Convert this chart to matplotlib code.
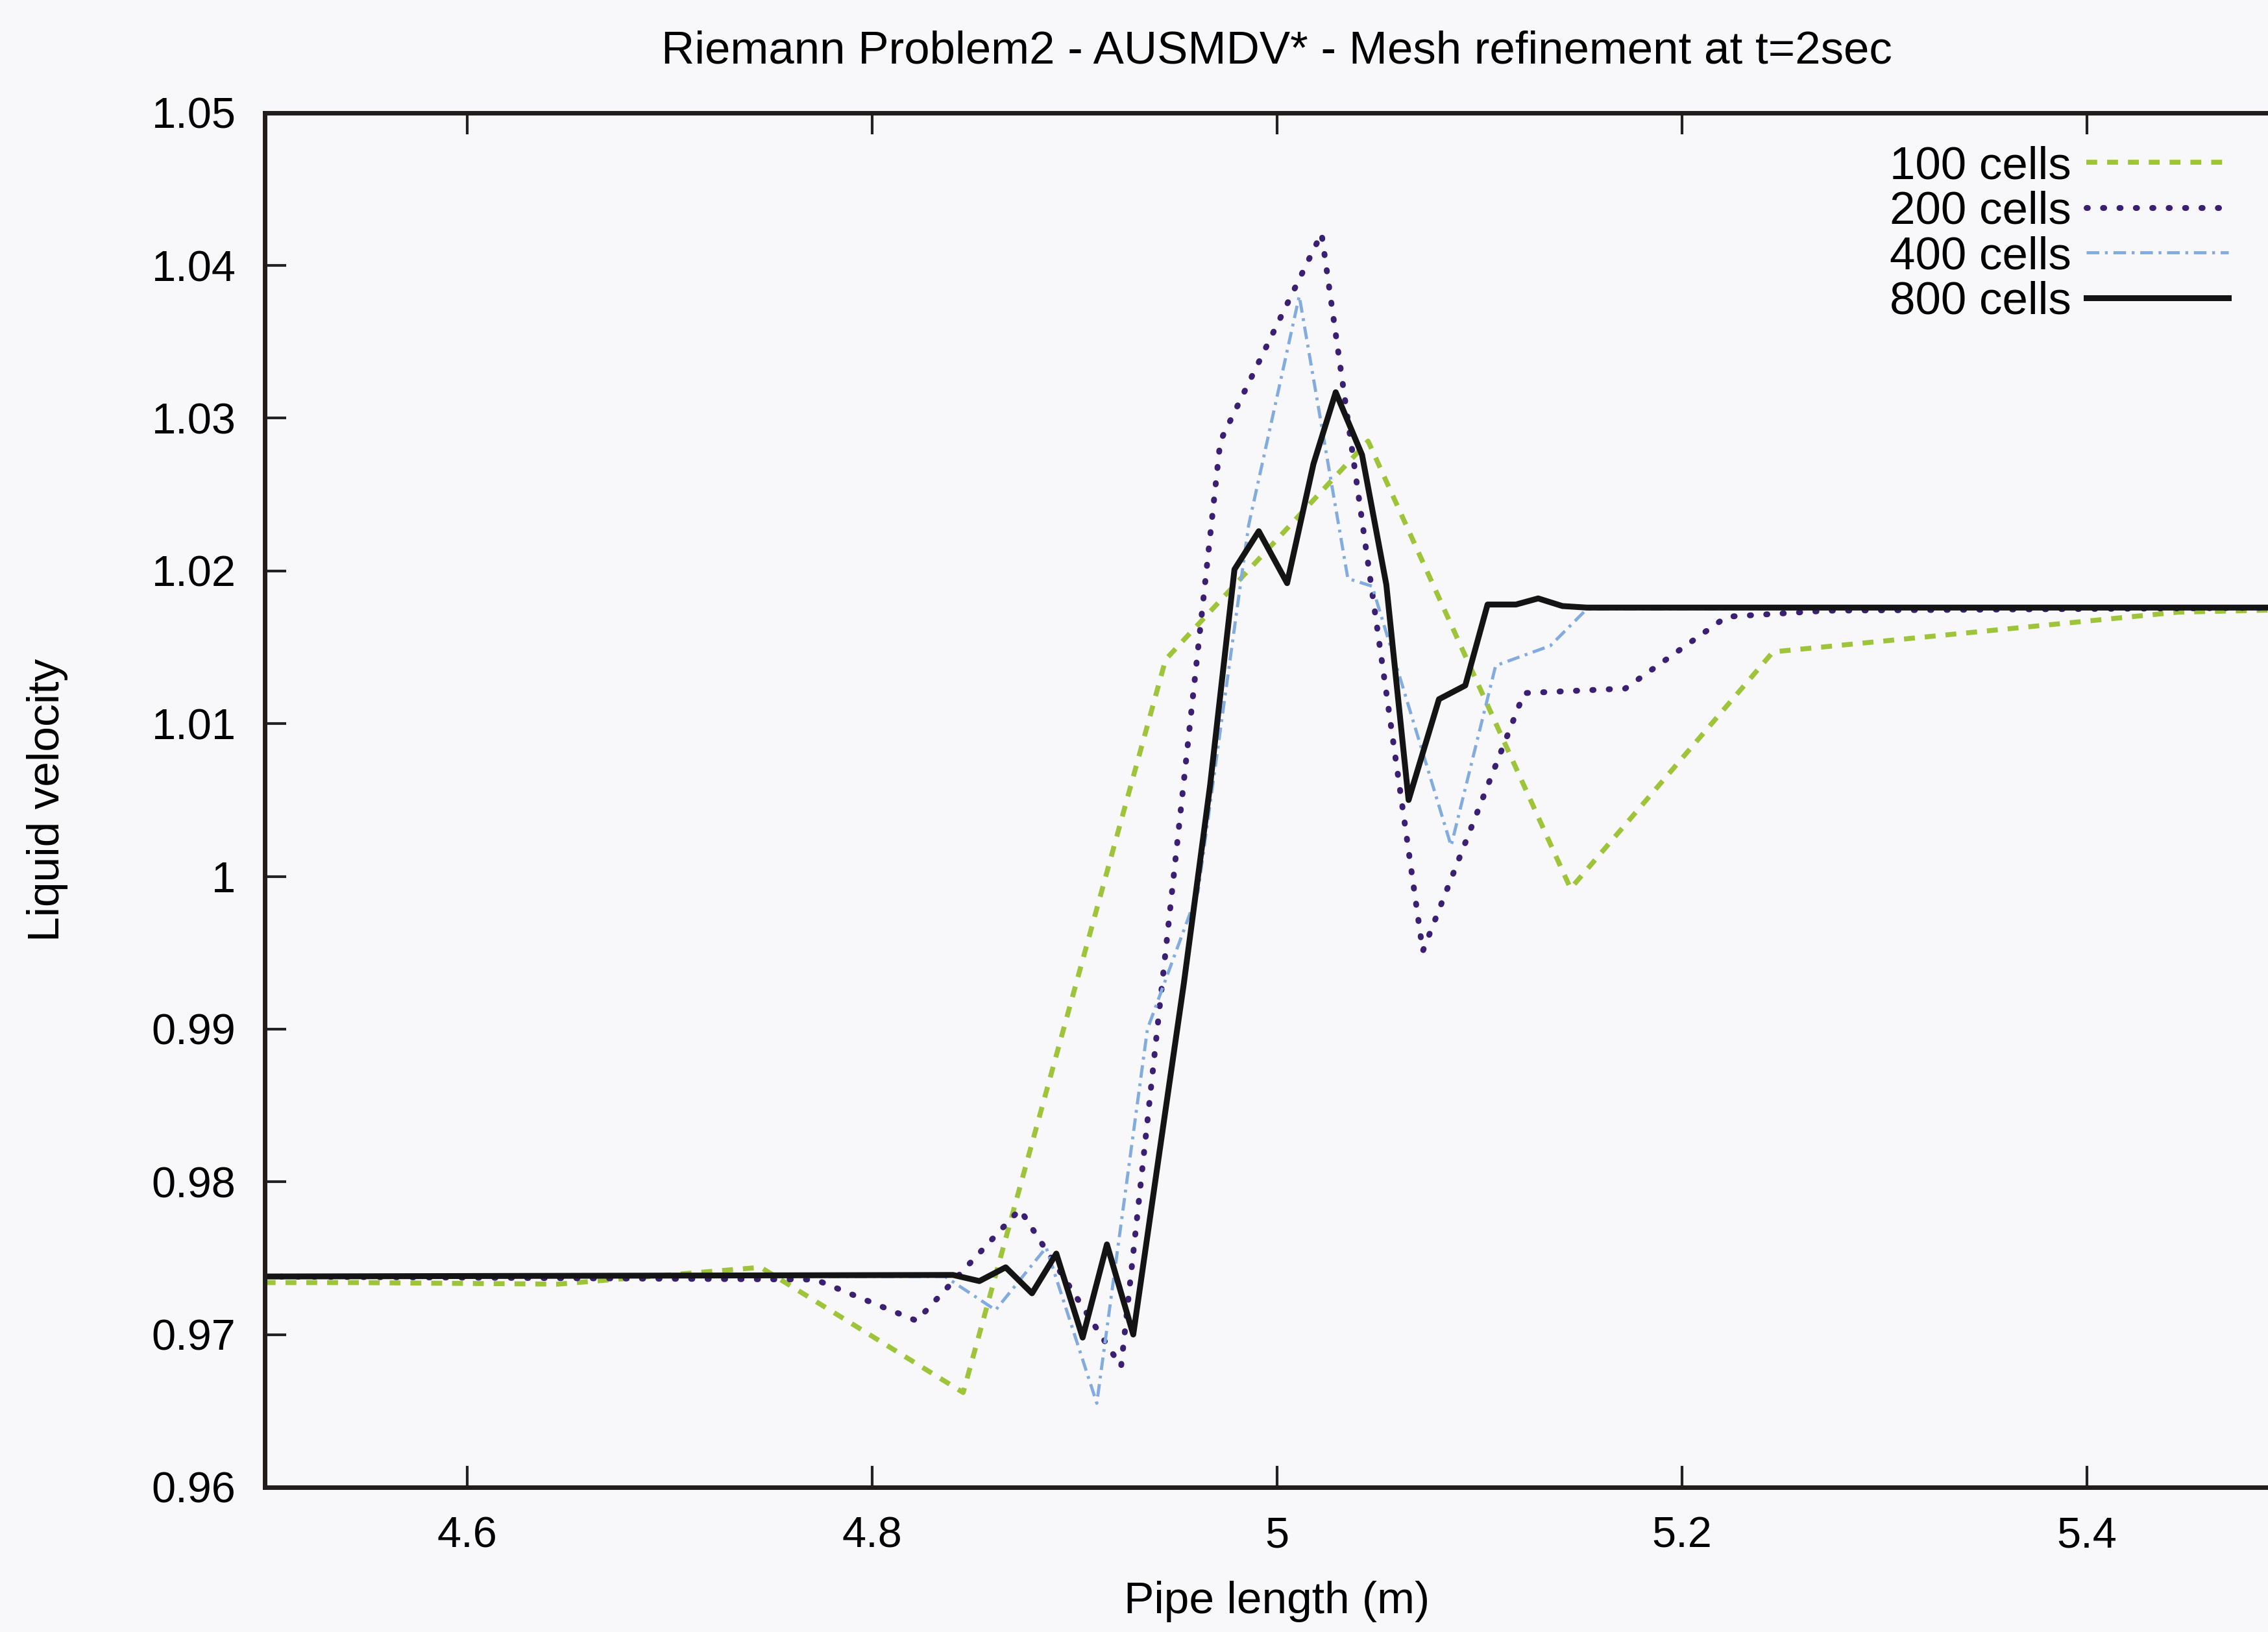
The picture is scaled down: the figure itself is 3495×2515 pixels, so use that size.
import matplotlib
matplotlib.use('Agg')
import matplotlib.pyplot as plt
from matplotlib.ticker import FuncFormatter

# Liquid velocity along the pipe for four mesh sizes (AUSMDV*, t = 2 s)
x_100 = [4.50, 4.545, 4.645, 4.745, 4.845, 4.945, 5.045, 5.145, 5.245, 5.345, 5.445, 5.545]
u_100 = [0.9734, 0.9734, 0.9733, 0.9744, 0.9662, 1.0142, 1.0285, 0.9992, 1.0147, 1.0160, 1.0173, 1.0176]

x_200 = [4.50, 4.772, 4.822, 4.873, 4.923, 4.972, 5.022, 5.072, 5.122, 5.172, 5.222, 5.272, 5.50]
u_200 = [0.9738, 0.9736, 0.9709, 0.9782, 0.9679, 1.0285, 1.0421, 0.9951, 1.0120, 1.0123, 1.0170, 1.0174, 1.0176]

x_400 = [4.50, 4.836, 4.861, 4.886, 4.911, 4.936, 4.961, 4.986, 5.011, 5.035, 5.047, 5.086, 5.108, 5.135, 5.153, 5.50]
u_400 = [0.9738, 0.9738, 0.9716, 0.9757, 0.9655, 0.9900, 0.9990, 1.0230, 1.0380, 1.0195, 1.0190, 1.0020, 1.0138, 1.0151, 1.0175, 1.0176]

x_800 = [4.50, 4.840, 4.853, 4.866, 4.879, 4.891, 4.904, 4.916, 4.929, 4.942, 4.954, 4.967,
         4.979, 4.991, 5.005, 5.018, 5.029, 5.042, 5.054, 5.065, 5.080, 5.093, 5.104, 5.118,
         5.129, 5.141, 5.153, 5.50]
u_800 = [0.9738, 0.9739, 0.9735, 0.9744, 0.9727, 0.9753, 0.9698, 0.9759, 0.9700, 0.9820, 0.9930, 1.0060,
         1.0201, 1.0226, 1.0192, 1.0270, 1.0317, 1.0276, 1.0191, 1.0050, 1.0116, 1.0125, 1.0178, 1.0178,
         1.0182, 1.0177, 1.0176, 1.0176]

labels = ['100 cells', '200 cells', '400 cells', '800 cells']
x_ticks = [4.6, 4.8, 5.0, 5.2, 5.4]
y_ticks = [0.96, 0.97, 0.98, 0.99, 1.00, 1.01, 1.02, 1.03, 1.04, 1.05]

plt.rcParams['font.family'] = ['Liberation Sans', 'DejaVu Sans']

fig = plt.figure(figsize=(34.95, 25.15), dpi=100, facecolor='#f8f8fa')
# axes runs a little past the right edge of the page
ax = fig.add_axes([0.1167, 0.0887, 0.8927, 0.8422])
ax.set_facecolor('#f8f8fa')

ax.plot(x_100, u_100, color='#9ec43a', lw=5.5, linestyle=(0, (2.2, 2.0)), label=labels[0])
ax.plot(x_200, u_200, color='#3a1f73', lw=6.5, linestyle=(0, (0.2, 2.6)),
        dash_capstyle='round', label=labels[1])
ax.plot(x_400, u_400, color='#82ace0', lw=3.5, linestyle=(0, (4, 1.8, 0.9, 1.8)), label=labels[2])
ax.plot(x_800, u_800, color='#141414', lw=6.5, label=labels[3])

ax.set_xlim(4.5, 5.5)
ax.set_ylim(0.96, 1.05)
ax.set_xticks(x_ticks)
ax.set_yticks(y_ticks)
fmt = FuncFormatter(lambda v, p: '%g' % round(v, 4))
ax.xaxis.set_major_formatter(fmt)
ax.yaxis.set_major_formatter(fmt)
ax.tick_params(direction='in', length=24, width=3, labelsize=48, pad=32,
               top=True, right=True, color='#222222')

for sp in ax.spines.values():
    sp.set_linewidth(5)
    sp.set_color('#221c1c')

ax.set_title('Riemann Problem2 - AUSMDV* - Mesh refinement at t=2sec', fontsize=51, pad=55)
ax.set_xlabel('Pipe length (m)', fontsize=50)
ax.set_ylabel('Liquid velocity', fontsize=50)
ax.xaxis.set_label_coords(0.5, -0.068)
ax.yaxis.set_label_coords(-0.097, 0.5)

ax.legend(loc='upper right', bbox_to_anchor=(0.9826, 0.9109), bbox_transform=fig.transFigure,
          frameon=False, fontsize=51, markerfirst=False, handlelength=3.1,
          handletextpad=0.32, labelspacing=0.05, borderpad=0, borderaxespad=0)

fig.savefig('out.png', dpi=100, facecolor=fig.get_facecolor())
